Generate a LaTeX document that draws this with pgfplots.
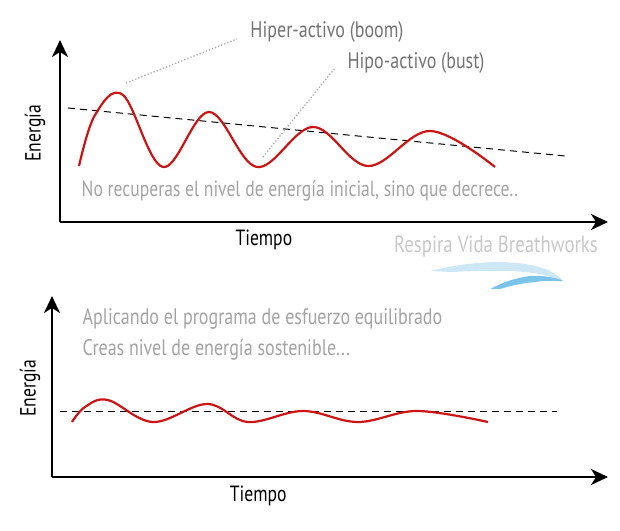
\documentclass[border=0pt]{standalone}
\usepackage{fontspec}
\setmainfont[FakeStretch=0.8]{PT Sans}
\usepackage{pgfplots}
\pgfplotsset{compat=1.18}
\usetikzlibrary{arrows.meta}
\definecolor{redline}{HTML}{CC1414}
\definecolor{txtdark}{HTML}{737373}
\definecolor{txtlight}{HTML}{A3A3A3}
\definecolor{logogray}{HTML}{C8C8C8}
\definecolor{wavelight}{HTML}{CDE7F6}
\definecolor{wavedark}{HTML}{7CC3EA}
\definecolor{dotgray}{HTML}{AAAAAA}
\pgfplotsset{
  myaxis/.style={
    scale only axis, clip=false,
    axis lines=left,
    xtick=\empty, ytick=\empty,
    axis line style={line width=2.2pt, -{Stealth[length=17pt,width=16pt,inset=5pt]}},
    label style={font=\fontsize{22}{24}\selectfont, text=black},
  }
}
\begin{document}
\begin{tikzpicture}
\useasboundingbox (0,0) rectangle (620pt,530pt);
% ---------- top panel ----------
\begin{axis}[myaxis,
  at={(60pt,308pt)}, anchor=south west,
  width=548pt, height=182pt,
  xmin=60, xmax=608, ymin=308, ymax=490,
  xlabel={Tiempo}, ylabel={Energía},
  xlabel style={at={(axis description cs:0.372,-0.099)}, anchor=center},
  ylabel style={at={(axis description cs:-0.0456,0.489)}, anchor=center},
]
% logo waves
\addplot[fill=wavelight, draw=none, smooth, tension=0.5] coordinates {
 (430,259) (460,265) (495,268) (525,266) (548,260) (562,250) (540,256) (510,259) (478,259) (452,258)} -- cycle;
\addplot[fill=wavedark, draw=none, smooth, tension=0.5] coordinates {
 (490,241) (508,249) (530,254) (550,253) (563,249) (545,249) (520,246) (500,241)} -- cycle;
% dashed trend
\addplot[black, line width=1pt, dash pattern=on 7pt off 5pt] coordinates {(68,422) (565,374)};
% red energy curve
\addplot[redline, line width=2.2pt, smooth, tension=0.6] coordinates {
 (79,364) (95,415) (123,435) (163,363) (209,418) (257,363) (313,403) (368,364) (430,399) (495,363)};
% dotted pointers
\addplot[dotgray, line width=1.3pt, dotted] coordinates {(126,447) (237,491)};
\addplot[dotgray, line width=1.3pt, dotted] coordinates {(263,373) (335,462)};
% texts
\node[text=txtdark, font=\fontsize{22.5}{24}\selectfont] at (axis cs:327,498) {Hiper-activo (boom)};
\node[text=txtdark, font=\fontsize{22.5}{24}\selectfont] at (axis cs:416,467) {Hipo-activo (bust)};
\node[text=txtlight, font=\fontsize{22}{24}\selectfont] at (axis cs:300,339) {No recuperas el nivel de energía inicial, sino que decrece..};
\node[text=logogray, font=\fontsize{23.5}{25}\selectfont] at (axis cs:496,283) {Respira Vida Breathworks};
\end{axis}
% ---------- bottom panel ----------
\begin{axis}[myaxis,
  at={(52pt,53pt)}, anchor=south west,
  width=556pt, height=181pt,
  xmin=52, xmax=608, ymin=53, ymax=234,
  xlabel={Tiempo}, ylabel={Energía},
  xlabel style={at={(axis description cs:0.371,-0.105)}, anchor=center},
  ylabel style={at={(axis description cs:-0.0396,0.4917)}, anchor=center},
]
\addplot[black, line width=1pt, dash pattern=on 7pt off 5pt] coordinates {(60,119) (557,119)};
\addplot[redline, line width=2.2pt, smooth, tension=0.6] coordinates {
 (72,108) (85,123) (108,130) (153,108) (207,126) (248,108) (303,119) (358,108) (417,119) (488,108)};
\node[text=txtlight, font=\fontsize{22.5}{24}\selectfont, anchor=west] at (axis cs:79,211) {Aplicando el programa de esfuerzo equilibrado};
\node[text=txtlight, font=\fontsize{22.5}{24}\selectfont, anchor=west] at (axis cs:79,180) {Creas nivel de energía sostenible...};
\end{axis}
\end{tikzpicture}
\end{document}
